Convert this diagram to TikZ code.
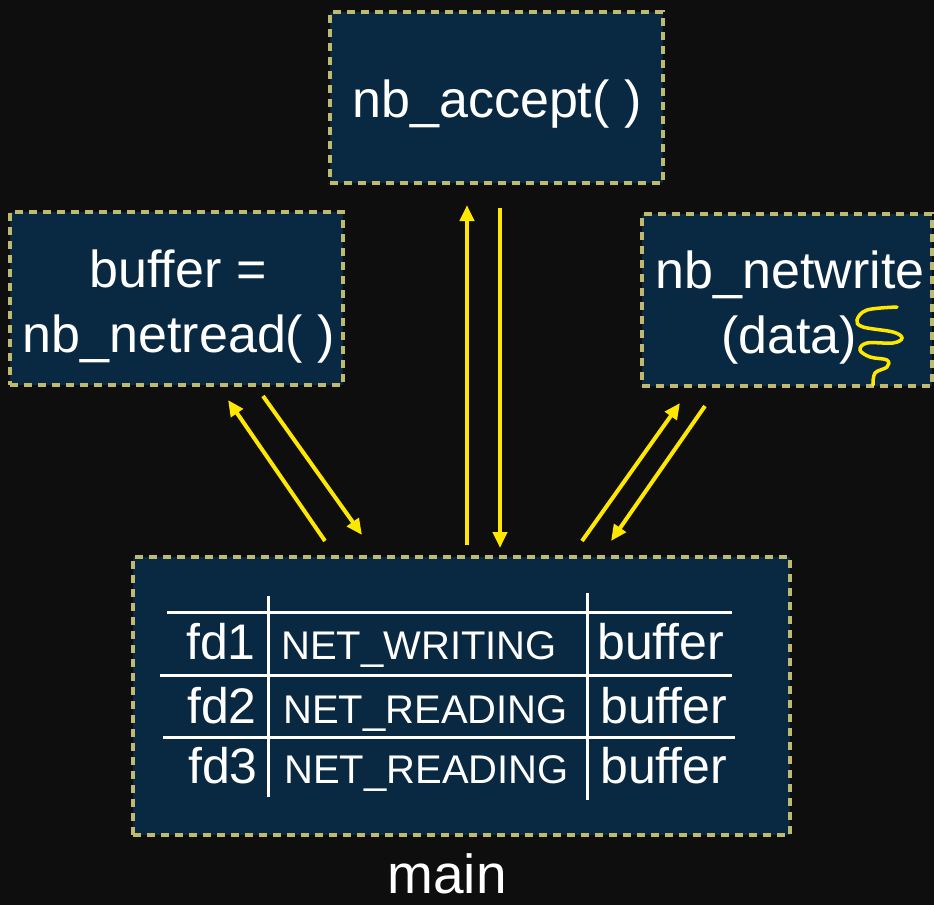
\documentclass[tikz,border=0pt]{standalone}
\usepackage{fontspec}
\setmainfont{Liberation Sans}
\usetikzlibrary{arrows.meta}
\definecolor{bg}{RGB}{14,14,14}
\definecolor{boxfill}{RGB}{9,41,67}
\definecolor{dashcol}{RGB}{192,186,112}
\definecolor{arrowcol}{RGB}{255,232,0}
\tikzset{
  fnbox/.style={draw=dashcol, fill=boxfill, line width=3.5pt, dash pattern=on 8pt off 6pt, inner sep=0pt},
  boxtxt/.style={text=white, align=center, inner sep=0pt, font=\fontsize{52}{65}\selectfont},
  bigtxt/.style={text=white, inner sep=0pt, font=\fontsize{50}{60}\selectfont},
  smalltxt/.style={text=white, inner sep=0pt, font=\fontsize{40}{48}\selectfont},
  rule/.style={draw=white, line width=3pt},
  flow/.style={draw=arrowcol, line width=4pt, -{Triangle[length=16pt,width=14pt]}},
}
\begin{document}
\begin{tikzpicture}[x=1pt,y=-1pt]
\fill[bg] (0,0) rectangle (934,905);
\useasboundingbox (0,0) rectangle (934,905);

% boxes
\node[fnbox, minimum width=333pt, minimum height=171pt] (accept) at (496.5,97.5) {};
\node[fnbox, minimum width=333pt, minimum height=173pt] (netread) at (176.5,298.5) {};
\node[fnbox, minimum width=290pt, minimum height=172pt] (netwrite) at (787,300) {};
\node[fnbox, minimum width=657pt, minimum height=278pt] (main) at (461.5,696) {};

% box texts
\node[boxtxt, anchor=base] (accepttxt) at (497,117) {nb\_accept( )};
\node[boxtxt, anchor=base] (readtxt1) at (178,287) {buffer =};
\node[boxtxt, anchor=base] (readtxt2) at (179,352) {nb\_netread( )};
\node[boxtxt, anchor=base] (writetxt1) at (790,288) {nb\_netwrite};
\node[boxtxt, anchor=base] (writetxt2) at (789,353) {(data)};
\node[bigtxt, font=\fontsize{55}{60}\selectfont, anchor=base, text depth=0pt] (mainlabel) at (447,893) {main};

% squiggle
\draw[arrowcol, line width=3.5pt, line cap=round] plot[smooth, tension=0.6] coordinates {
(897,307) (867,310) (857,320) (863,327) (893,332) (902,338) (893,343) (867,343)
(860,350) (870,357) (887,360) (887,367) (875,373) (873,385)};

% table rules
\coordinate (h1a) at (167,612); \coordinate (h1b) at (732,612);
\coordinate (h2a) at (160,675); \coordinate (h2b) at (732,675);
\coordinate (h3a) at (163,737); \coordinate (h3b) at (735,737);
\coordinate (v1a) at (268,596); \coordinate (v1b) at (268,797);
\coordinate (v2a) at (587,593); \coordinate (v2b) at (587,800);
\draw[rule] (h1a) -- (h1b);
\draw[rule] (h2a) -- (h2b);
\draw[rule] (h3a) -- (h3b);
\draw[rule] (v1a) -- (v1b);
\draw[rule] (v2a) -- (v2b);

% table cells
\node[bigtxt, anchor=base east] (fd1) at (256,659) {fd1};
\node[bigtxt, anchor=base east] (fd2) at (257,723) {fd2};
\node[bigtxt, anchor=base east] (fd3) at (258,783) {fd3};
\node[smalltxt, anchor=base west] (st1) at (281,659) {NET\_WRITING};
\node[smalltxt, anchor=base west] (st2) at (283,723) {NET\_READING};
\node[smalltxt, anchor=base west] (st3) at (284,783) {NET\_READING};
\node[bigtxt, anchor=base west] (b1) at (597,659) {buffer};
\node[bigtxt, anchor=base west] (b2) at (600,723) {buffer};
\node[bigtxt, anchor=base west] (b3) at (600,783) {buffer};

% connector end points
\coordinate (m1) at (467,545); \coordinate (a1) at (467,205);
\coordinate (a2) at (500,208); \coordinate (m2) at (500,548);
\coordinate (m3) at (325,541); \coordinate (r1) at (228,400);
\coordinate (r2) at (263,396); \coordinate (m4) at (362,535);
\coordinate (m5) at (582,541); \coordinate (w1) at (680,403);
\coordinate (w2) at (705,406); \coordinate (m6) at (611,541);

\draw[flow] (m1) -- (a1);
\draw[flow] (a2) -- (m2);
\draw[flow] (m3) -- (r1);
\draw[flow] (r2) -- (m4);
\draw[flow] (m5) -- (w1);
\draw[flow] (w2) -- (m6);
\end{tikzpicture}
\end{document}
